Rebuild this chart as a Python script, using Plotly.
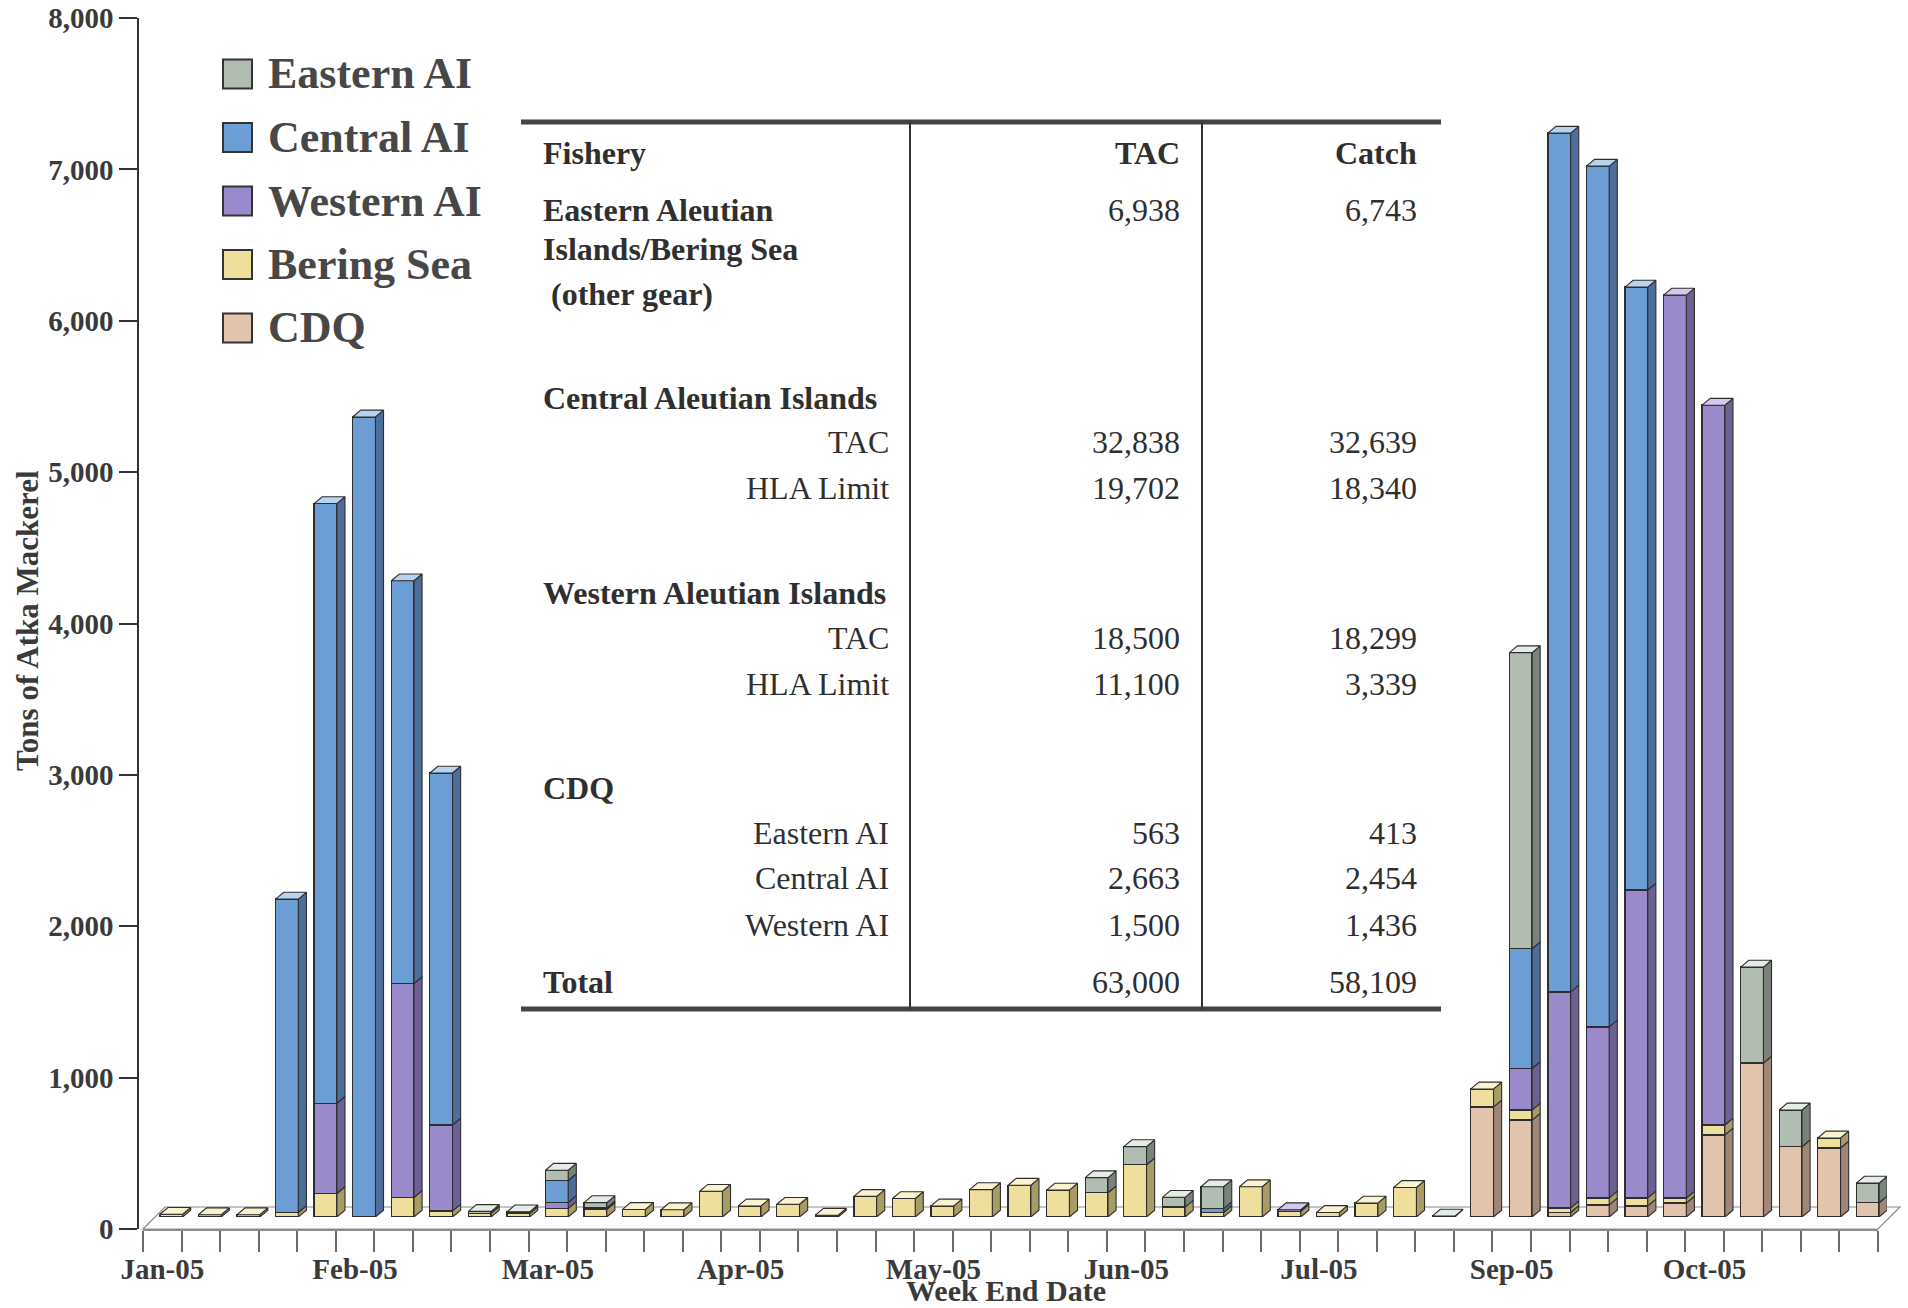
import plotly.graph_objects as go
import pandas as pd

W_PX, H_PX = 1908, 1308

# ---------------- data ----------------
week_end = pd.date_range("2005-01-01", periods=45, freq="7D")
week_labels = [d.strftime("%d-%b-%Y") for d in week_end]
x_pos = list(range(len(week_end)))
tick_idx = [0, 5, 10, 15, 20, 25, 30, 35, 40]
tick_text = ["Jan-05", "Feb-05", "Mar-05", "Apr-05", "May-05", "Jun-05", "Jul-05", "Sep-05", "Oct-05"]
y_ticks = [0, 1000, 2000, 3000, 4000, 5000, 6000, 7000, 8000]

eastern_ai = [0, 0, 0, 0, 0, 0, 0, 0, 12, 12,
              68, 36, 0, 0, 0, 0, 0, 0, 0, 0,
              0, 0, 0, 0, 100, 120, 65, 145, 0, 0,
              0, 0, 0, 6, 0, 1956, 0, 0, 0, 0,
              0, 634, 243, 0, 130]
central_ai = [0, 0, 0, 2070, 3962, 5285, 2661, 2325, 0, 0,
              145, 9, 0, 0, 0, 0, 0, 0, 0, 0,
              0, 0, 0, 0, 0, 0, 0, 25, 0, 0,
              0, 0, 0, 0, 0, 791, 5673, 5686, 3983, 0,
              0, 0, 0, 0, 0]
western_ai = [0, 0, 0, 0, 596, 0, 1413, 568, 0, 0,
              39, 0, 0, 0, 0, 0, 0, 0, 0, 0,
              0, 0, 0, 0, 0, 0, 0, 0, 0, 10,
              0, 0, 0, 0, 0, 275, 1427, 1130, 2034, 5965,
              4755, 0, 0, 0, 0]
bering_sea = [18, 15, 15, 30, 155, 0, 129, 40, 25, 22,
              57, 50, 50, 48, 170, 73, 84, 12, 136, 122,
              73, 181, 210, 178, 160, 345, 65, 30, 200, 38,
              30, 92, 195, 0, 119, 66, 30, 46, 53, 33,
              66, 0, 0, 66, 0]
cdq = [0, 0, 0, 0, 0, 0, 0, 0, 0, 0,
       0, 0, 0, 0, 0, 0, 0, 0, 0, 0,
       0, 0, 0, 0, 0, 0, 0, 0, 0, 0,
       0, 0, 0, 0, 727, 640, 30, 80, 73, 92,
       542, 1017, 464, 456, 94]

# stacking order bottom -> top
series = [("CDQ", cdq), ("Bering Sea", bering_sea), ("Western AI", western_ai),
          ("Central AI", central_ai), ("Eastern AI", eastern_ai)]
legend_order = ["Eastern AI", "Central AI", "Western AI", "Bering Sea", "CDQ"]

# table contents
tbl_label = ["Fishery", "Eastern Aleutian", "Islands/Bering Sea", " (other gear)",
             "Central Aleutian Islands", "TAC", "HLA Limit",
             "Western Aleutian Islands", "TAC", "HLA Limit",
             "CDQ", "Eastern AI", "Central AI", "Western AI", "Total"]
tbl_tac = ["TAC", "6,938", "", "", "", "32,838", "19,702", "", "18,500", "11,100",
           "", "563", "2,663", "1,500", "63,000"]
tbl_catch = ["Catch", "6,743", "", "", "", "32,639", "18,340", "", "18,299", "3,339",
             "", "413", "2,454", "1,436", "58,109"]
tbl_bold = [True, True, True, True, True, False, False, True, False, False,
            True, False, False, False, True]
tbl_indent = [False, False, False, False, False, True, True, False, True, True,
              False, True, True, True, False]
tbl_row_y = [153, 210, 249, 294, 398, 442, 488, 593, 638, 684, 788, 833, 878, 925, 982]

# ---------------- style ----------------
FONT = "Liberation Serif"
front = {"Eastern AI": "#b2bdb2", "Central AI": "#6d9dd5", "Western AI": "#9a8acb",
         "Bering Sea": "#efdf9c", "CDQ": "#e2c3ab"}
side = {"Eastern AI": "#7a837b", "Central AI": "#4d6d9a", "Western AI": "#6c6192",
        "Bering Sea": "#a89c64", "CDQ": "#9f8676"}
top = {"Eastern AI": "#e5ece5", "Central AI": "#b8d3ef", "Western AI": "#d3c9ea",
       "Bering Sea": "#fbf3cf", "CDQ": "#f5e5d7"}


def px(x):
    return x / W_PX


def py(y):
    return 1 - y / H_PX


BAR_W = 0.59     # front face width (category units)
DEPTH_X = 0.21   # receding depth (category units)
DEPTH_Y = 45     # receding depth (value units)

fig = go.Figure()

# empty trace so the front-plane axes (x / y) get drawn
fig.add_trace(go.Scatter(x=[], y=[], xaxis="x", yaxis="y", mode="markers",
                         hoverinfo="skip", showlegend=False))

# front faces: real stacked bars
for name, vals in series:
    fig.add_trace(go.Bar(
        x=x_pos, y=vals, name=name, xaxis="x2", yaxis="y2", width=BAR_W,
        marker=dict(color=front[name], line=dict(color="#2e2e2e", width=1.4)),
        customdata=week_labels, showlegend=False,
        hovertemplate="%{customdata}<br>" + name + ": %{y:,} t<extra></extra>"))

# side and top faces derived from the same values
base = [0] * len(x_pos)
top_series = [None] * len(x_pos)
for name, vals in series:
    xs, ys = [], []
    for i, v in enumerate(vals):
        if v > 0:
            b, t = base[i], base[i] + v
            xr = i + BAR_W / 2
            xs += [xr, xr + DEPTH_X, xr + DEPTH_X, xr, xr, None]
            ys += [b, b + DEPTH_Y, t + DEPTH_Y, t, b, None]
            top_series[i] = name
    fig.add_trace(go.Scatter(x=xs, y=ys, xaxis="x2", yaxis="y2", mode="lines",
                             fill="toself", fillcolor=side[name],
                             line=dict(color="#2e2e2e", width=1.1),
                             hoverinfo="skip", showlegend=False))
    base = [base[i] + vals[i] for i in range(len(vals))]

for name, _ in series:
    xs, ys = [], []
    for i in x_pos:
        if top_series[i] == name:
            T = base[i]
            xl, xr = i - BAR_W / 2, i + BAR_W / 2
            xs += [xl, xl + DEPTH_X, xr + DEPTH_X, xr, xl, None]
            ys += [T, T + DEPTH_Y, T + DEPTH_Y, T, T, None]
    if xs:
        fig.add_trace(go.Scatter(x=xs, y=ys, xaxis="x2", yaxis="y2", mode="lines",
                                 fill="toself", fillcolor=top[name],
                                 line=dict(color="#2e2e2e", width=1.1),
                                 hoverinfo="skip", showlegend=False))

n = len(x_pos)
boundaries = [k - 0.5 for k in range(n + 1)]

shapes = []
# floor
fx0, fx1, fy0, fdx, fdy = 143, 1878, 1229, 22, 22
shapes.append(dict(
    type="path", xref="paper", yref="paper", layer="below",
    path=(f"M {px(fx0)},{py(fy0)} L {px(fx1)},{py(fy0)} L {px(fx1 + fdx)},{py(fy0 - fdy)} "
          f"L {px(fx0 + fdx)},{py(fy0 - fdy)} Z"),
    fillcolor="white", line=dict(color="#8c8c8c", width=1.2)))

# table rules
shapes.append(dict(type="line", xref="paper", yref="paper", x0=px(521), x1=px(1441),
                   y0=py(122), y1=py(122), line=dict(color="#454545", width=5)))
shapes.append(dict(type="line", xref="paper", yref="paper", x0=px(521), x1=px(1441),
                   y0=py(1009), y1=py(1009), line=dict(color="#454545", width=5)))
for vx in (910, 1202):
    shapes.append(dict(type="line", xref="paper", yref="paper", x0=px(vx), x1=px(vx),
                       y0=py(122), y1=py(1009), line=dict(color="#333333", width=2)))

annotations = []
# legend (manual, large swatches)
for k, name in enumerate(legend_order):
    cy = 74 + k * 63.5
    shapes.append(dict(type="rect", xref="paper", yref="paper",
                       x0=px(223), x1=px(252), y0=py(cy - 14.5), y1=py(cy + 14.5),
                       fillcolor=front[name], line=dict(color="#333333", width=2)))
    annotations.append(dict(xref="paper", yref="paper", x=px(266), y=py(cy),
                            xanchor="left", yanchor="middle", showarrow=False,
                            text=name, font=dict(family=FONT, size=44, color="#474747",
                                                 weight="bold")))

# table text
for lab, tac, cat, bold, ind, ry in zip(tbl_label, tbl_tac, tbl_catch, tbl_bold, tbl_indent, tbl_row_y):
    w = "bold" if bold else "normal"
    if ind:
        annotations.append(dict(xref="paper", yref="paper", x=px(891), y=py(ry),
                                xanchor="right", yanchor="middle", showarrow=False, text=lab,
                                font=dict(family=FONT, size=32, color="#2f2f2f", weight=w)))
    else:
        annotations.append(dict(xref="paper", yref="paper", x=px(541), y=py(ry),
                                xanchor="left", yanchor="middle", showarrow=False, text=lab,
                                font=dict(family=FONT, size=32, color="#2f2f2f", weight=w)))
    hw = "bold" if ry == tbl_row_y[0] else "normal"
    for txt, cx in ((tac, 1182), (cat, 1419)):
        if txt:
            annotations.append(dict(xref="paper", yref="paper", x=px(cx), y=py(ry),
                                    xanchor="right", yanchor="middle", showarrow=False, text=txt,
                                    font=dict(family=FONT, size=32, color="#2f2f2f", weight=hw)))

# axis titles
annotations.append(dict(xref="paper", yref="paper", x=px(27), y=py(621), textangle=-90,
                        xanchor="center", yanchor="middle", showarrow=False,
                        text="Tons of Atka Mackerel",
                        font=dict(family=FONT, size=31, color="#3a3a3a", weight="bold")))
annotations.append(dict(xref="paper", yref="paper", x=px(1006), y=py(1308),
                        xanchor="center", yanchor="bottom", showarrow=False, borderpad=0,
                        text="Week End Date",
                        font=dict(family=FONT, size=30, color="#3a3a3a", weight="bold")))

fig.update_layout(
    template="none", width=W_PX, height=H_PX, autosize=False,
    margin=dict(l=0, r=0, t=0, b=0, pad=0),
    paper_bgcolor="white", plot_bgcolor="rgba(0,0,0,0)",
    barmode="stack", bargap=0.41, showlegend=False,
    font=dict(family=FONT, color="#333333"),
    xaxis=dict(domain=[px(143), px(1878)], range=[-0.5, n - 0.5], anchor="y",
               showline=True, linecolor="#8c8c8c", linewidth=1.5,
               tickmode="array", tickvals=tick_idx, ticktext=tick_text,
               ticks="outside", ticklen=13, tickcolor="rgba(0,0,0,0)",
               tickfont=dict(family=FONT, size=29, color="#3a3a3a", weight="bold"),
               minor=dict(tickmode="array", tickvals=boundaries, ticks="outside",
                          ticklen=21, tickcolor="#6a6a6a", tickwidth=1.5, showgrid=False),
               showgrid=False, zeroline=False, automargin=False, fixedrange=True),
    yaxis=dict(domain=[py(1229), py(18)], range=[0, 8000], anchor="free", position=px(138),
               showline=True, linecolor="#333333", linewidth=1.5,
               tickmode="array", tickvals=y_ticks, tickformat=",",
               ticks="outside", ticklen=18, tickwidth=1.5, tickcolor="#333333",
               tickfont=dict(family=FONT, size=29, color="#3a3a3a", weight="bold"),
               showgrid=False, zeroline=False, automargin=False, fixedrange=True),
    xaxis2=dict(domain=[px(152), px(1887)], range=[-0.5, n - 0.5], anchor="y2",
                visible=False, fixedrange=True),
    yaxis2=dict(domain=[py(1217), py(6)], range=[0, 8000], anchor="x2",
                visible=False, fixedrange=True),
    shapes=shapes, annotations=annotations,
)

fig.write_html("out.html")
